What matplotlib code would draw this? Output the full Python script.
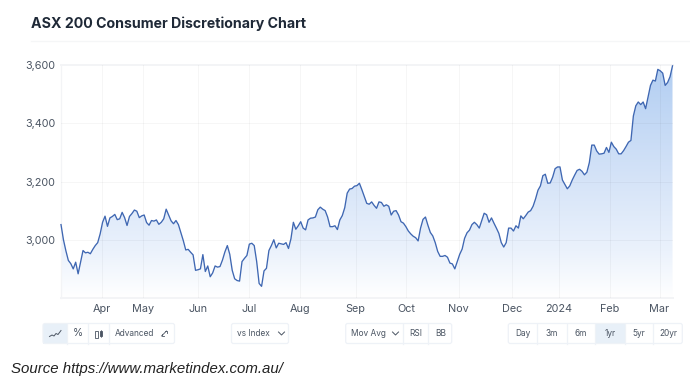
import matplotlib
matplotlib.use("Agg")
import matplotlib.pyplot as plt
import numpy as np
from matplotlib.colors import LinearSegmentedColormap
from matplotlib.patches import Rectangle, FancyBboxPatch

plt.rcParams["font.family"] = ["Inter", "DejaVu Sans"]

# one close per trading session
closes = [
    3052, 3000, 2962, 2929, 2918, 2900, 2923, 2883, 2923, 2963,
    2955, 2957, 2952, 2967, 2980, 2990, 3020, 3060, 3081, 3046,
    3075, 3080, 3087, 3069, 3072, 3094, 3076, 3049, 3080, 3090,
    3102, 3098, 3076, 3082, 3085, 3059, 3050, 3066, 3064, 3068,
    3053, 3060, 3072, 3105, 3085, 3065, 3055, 3066, 3052, 3025,
    2997, 2965, 2967, 2957, 2948, 2895, 2897, 2900, 2949, 2891,
    2910, 2873, 2886, 2910, 2906, 2908, 2930, 2958, 2980, 2950,
    2895, 2866, 2860, 2858, 2925, 2936, 2946, 2985, 2988, 2980,
    2925, 2850, 2840, 2893, 2902, 2963, 2980, 3000, 2972, 2988,
    2986, 2984, 2990, 2970, 3003, 3060, 3036, 3048, 3062, 3040,
    3034, 3068, 3074, 3075, 3078, 3103, 3112, 3105, 3100, 3078,
    3045, 3045, 3048, 3035, 3068, 3083, 3110, 3160, 3174, 3176,
    3184, 3186, 3194, 3172, 3148, 3125, 3122, 3130, 3118, 3108,
    3130, 3128, 3115, 3120, 3115, 3085, 3098, 3100, 3085, 3062,
    3057, 3045, 3030, 3020, 3012, 3007, 2996, 3040, 3070, 3078,
    3050, 3025, 3013, 2990, 2960, 2943, 2943, 2946, 2940, 2920,
    2917, 2900, 2925, 2950, 2968, 3005, 3024, 3033, 3052, 3060,
    3052, 3040, 3065, 3091, 3086, 3060, 3075, 3057, 3040, 3022,
    2990, 2975, 2990, 3040, 3040, 3030, 3048, 3040, 3082, 3072,
    3083, 3095, 3100, 3115, 3140, 3170, 3185, 3220, 3225, 3194,
    3195, 3215, 3244, 3250, 3250, 3205, 3190, 3175, 3185, 3205,
    3222, 3238, 3242, 3235, 3223, 3232, 3265, 3325, 3325, 3305,
    3294, 3295, 3297, 3317, 3300, 3335, 3320, 3311, 3295, 3295,
    3306, 3320, 3335, 3341, 3425, 3460, 3473, 3464, 3473, 3450,
    3490, 3530, 3548, 3545, 3585, 3580, 3572, 3530, 3540, 3560,
    3597,
]
month_labels = ["Apr", "May", "Jun", "Jul", "Aug", "Sep", "Oct", "Nov", "Dec", "2024", "Feb", "Mar"]
month_sessions = [16.9, 33.6, 56, 76.9, 97.8, 120.5, 141, 162.6, 184.4, 203.4, 224.3, 244.7]
price_ticks = [3000, 3200, 3400, 3600]

W, H = 690, 386
fig = plt.figure(figsize=(W / 100, H / 100), dpi=100, facecolor="white")

# ---------- overlay in pixel coords, for the page furniture ----------
ui = fig.add_axes([0, 0, 1, 1])
ui.set_xlim(0, W)
ui.set_ylim(H, 0)
ui.axis("off")

# ---------- price chart ----------
left, right, top, bottom = 61, 672.5, 65, 298
ax = fig.add_axes([left / W, 1 - bottom / H, (right - left) / W, (bottom - top) / H])
ax.patch.set_alpha(0)
x = np.arange(len(closes))
ax.set_xlim(0, len(closes) - 1)
ax.set_ylim(2800, 3600)

fill_cmap = LinearSegmentedColormap.from_list(
    "fill", [(0, "#ffffff"), (0.2, "#ebf2fc"), (0.5, "#d6e4f8"), (1, "#b2cef2")]
)
grad = ax.imshow(np.linspace(1, 0, 256).reshape(-1, 1), cmap=fill_cmap, vmin=0, vmax=1,
                 extent=[0, len(closes) - 1, 2800, 3600], aspect="auto", zorder=1)
area = ax.fill_between(x, closes, 2800, color="none")
grad.set_clip_path(area.get_paths()[0], transform=ax.transData)

ax.plot(x, closes, color="#3f67b2", lw=0.95, zorder=3, clip_on=False)

ax.set_xticks(month_sessions)
ax.set_xticklabels(month_labels)
ax.set_yticks(price_ticks)
ax.set_yticklabels([f"{v:,}" for v in price_ticks])
ax.tick_params(length=0, labelsize=7.8, labelcolor="#4b5563")
ax.tick_params(axis="x", pad=4)
ax.tick_params(axis="y", pad=4)
ax.grid(True, color="#000000", alpha=0.035, lw=0.8, zorder=2)
ax.set_axisbelow(False)
ax.get_ygridlines()[-1].set_visible(False)
for spine in ax.spines.values():
    spine.set_visible(False)
ax.axhline(3600, color="#f3f4f6", lw=1.4, zorder=2, clip_on=False)
ax.axhline(2800, color="#f3f4f6", lw=1.4, zorder=2, clip_on=False)
ax.axvline(0, color="#f3f4f6", lw=0.9, zorder=2, clip_on=False)

# ---------- title and source ----------
ui.text(31, 24, "ASX 200 Consumer Discretionary Chart", fontsize=10.2, fontweight="bold",
        color="#1f2937", va="center", ha="left")
ui.plot([31, 690], [41, 41], color="#f5f6f7", lw=1)
ui.text(11, 369.5, "Source https://www.marketindex.com.au/", fontsize=10.8, style="italic",
        family="Liberation Sans", color="#222222", va="center", ha="left")


# ---------- toolbar buttons ----------
def button_group(x0, x1, dividers, active=None):
    y0, y1 = 323.5, 343.5
    if active is not None:
        ui.add_patch(Rectangle((active[0], y0), active[1] - active[0], y1 - y0,
                               fc="#e8f0f8", ec="none", zorder=1))
    ui.add_patch(FancyBboxPatch((x0, y0), x1 - x0, y1 - y0, boxstyle="round,pad=0,rounding_size=2",
                                fc="none", ec="#eef2f7", lw=0.9, zorder=2))
    for d in dividers:
        ui.plot([d, d], [y0, y1], color="#eef2f7", lw=0.9, zorder=2)


def label(cx, text):
    ui.text(cx, 333.5, text, fontsize=6.0, color="#4b5563", ha="center", va="center", zorder=3)


def chevron(cx):
    ui.plot([cx - 3, cx, cx + 3], [332, 335, 332], color="#4b5563", lw=0.7, zorder=3)


button_group(43, 174.5, [67, 88, 108.7], active=(43, 67))
button_group(231.5, 288.5, [])
button_group(345.7, 451.7, [403.3, 428.3])
button_group(508.3, 682.3, [537.3, 566.7, 595, 625, 653.3], active=(595, 625))

# chart type icons
ui.plot([49.5, 52, 54, 56, 58, 61], [336.5, 335, 336, 333.5, 334.5, 330.5], color="#4b5563", lw=0.7, zorder=3)
ui.text(77.5, 333.5, "%", fontsize=7.5, color="#4b5563", ha="center", va="center", zorder=3)
ui.add_patch(Rectangle((95, 331), 2.6, 6.5, fc="white", ec="#4b5563", lw=0.6, zorder=3))
ui.add_patch(Rectangle((99.5, 330.5), 2.4, 5, fc="#4b5563", ec="#4b5563", lw=0.6, zorder=3))
ui.plot([100.7, 100.7], [329.5, 337], color="#4b5563", lw=0.5, zorder=3)

ui.text(134.5, 333.5, "Advanced", fontsize=6.0, color="#4b5563", ha="center", va="center", zorder=3)
ui.plot([161.5, 166.5], [336, 331], color="#4b5563", lw=0.6, zorder=3)
ui.plot([164.5, 166.5, 166.5], [331, 331, 333], color="#4b5563", lw=0.6, zorder=3)
ui.plot([161.5, 161.5, 163.5], [334, 336, 336], color="#4b5563", lw=0.6, zorder=3)

label(253.5, "vs Index")
chevron(281.5)
label(368.5, "Mov Avg")
chevron(395.5)
label(416, "RSI")
label(440.5, "BB")
for cx, text in zip([522.5, 551.5, 581, 610, 639, 668], ["Day", "3m", "6m", "1yr", "5yr", "20yr"]):
    label(cx, text)

fig.savefig("out.png", dpi=100)
